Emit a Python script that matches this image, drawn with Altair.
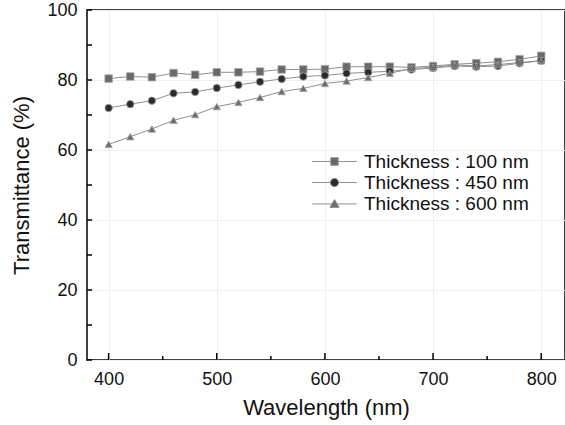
import altair as alt
import pandas as pd

wavelength = [400, 420, 440, 460, 480, 500, 520, 540, 560, 580, 600,
              620, 640, 660, 680, 700, 720, 740, 760, 780, 800]
t100 = [80.4, 81.0, 80.8, 82.0, 81.5, 82.2, 82.2, 82.4, 83.0, 83.0, 83.1,
        83.8, 83.8, 83.8, 83.6, 84.0, 84.5, 84.8, 85.2, 85.9, 86.9]
t450 = [72.0, 73.1, 74.1, 76.2, 76.6, 77.7, 78.6, 79.5, 80.3, 81.0, 81.3,
        81.9, 82.2, 82.5, 83.0, 83.4, 84.0, 83.8, 84.0, 84.8, 85.5]
t600 = [61.6, 63.8, 66.0, 68.5, 70.1, 72.4, 73.6, 75.0, 76.7, 77.6, 79.0,
        79.7, 80.7, 81.9, 83.3, 83.6, 84.3, 84.0, 84.4, 85.0, 85.5]
series = ["Thickness : 100 nm", "Thickness : 450 nm", "Thickness : 600 nm"]

x_major = [400, 500, 600, 700, 800]
x_minor = [450, 550, 650, 750]
y_major = [0, 20, 40, 60, 80, 100]
y_minor = [10, 30, 50, 70, 90]

rows = []
for name, vals in zip(series, [t100, t450, t600]):
    for w, v in zip(wavelength, vals):
        rows.append({"wl": w, "T": v, "series": name})
df = pd.DataFrame(rows)

FONT = "Liberation Sans"
xscale = alt.Scale(domain=[380, 822], nice=False, zero=False)
yscale = alt.Scale(domain=[0, 100], nice=False)
fills = ["#686868", "#2b2b2b", "#6c6c6c"]

xaxis = alt.Axis(title="Wavelength (nm)", values=x_major, grid=True, ticks=False,
                 domain=False, labelPadding=10, titlePadding=9, format="d")
yaxis = alt.Axis(title="Transmittance (%)", values=y_major, grid=True, ticks=False,
                 domain=False, labelPadding=10, titlePadding=13, format="d")

lines = alt.Chart(df).mark_line(color="#8f8f8f", strokeWidth=1).encode(
    x=alt.X("wl:Q", scale=xscale, axis=xaxis),
    y=alt.Y("T:Q", scale=yscale, axis=yaxis),
    detail="series:N",
)

points = alt.Chart(df).mark_point(filled=True, opacity=1, stroke="#a5a5a5",
                                  strokeWidth=0.8).encode(
    x=alt.X("wl:Q", scale=xscale),
    y=alt.Y("T:Q", scale=yscale),
    shape=alt.Shape("series:N", scale=alt.Scale(domain=series,
                    range=["square", "circle", "triangle-up"]), legend=None),
    fill=alt.Fill("series:N", scale=alt.Scale(domain=series, range=fills), legend=None),
    size=alt.Size("series:N", scale=alt.Scale(domain=series, range=[56, 55, 80]), legend=None),
)

sq = "M-5.4,0H-0.9M0.9,0H5.4M-0.9,-0.9H0.9V0.9H-0.9Z"
ci = "M-5.4,0H-1M1,0H5.4M-1,0A1,1,0,1,1,1,0A1,1,0,1,1,-1,0Z"
tr = "M-5.4,0.1H-0.6M0.6,0.1H5.4M0,-0.95L1.12,0.95H-1.12Z"

leg = alt.Legend(title=None, orient="none", legendX=238, legendY=142,
                 labelFont=FONT, labelFontSize=19, labelColor="#111", labelLimit=400,
                 symbolSize=68, labelOffset=20, rowPadding=1, padding=0,
                 symbolStrokeColor="#8f8f8f", symbolStrokeWidth=1, symbolOpacity=1)

legend_layer = alt.Chart(df).transform_filter("datum.wl < 0").mark_point(
    filled=True, opacity=1, strokeWidth=1).encode(
    x=alt.X("wl:Q", scale=xscale),
    y=alt.Y("T:Q", scale=yscale),
    shape=alt.Shape("series:N", scale=alt.Scale(domain=series, range=[sq, ci, tr]), legend=leg),
    fill=alt.Fill("series:N", scale=alt.Scale(domain=series, range=fills), legend=leg),
    stroke=alt.Stroke("series:N", scale=alt.Scale(domain=series,
                      range=["#8f8f8f", "#8f8f8f", "#8f8f8f"]), legend=leg),
)

ytick_df = pd.DataFrame({"T": y_major + y_minor})
xmaj_df = pd.DataFrame({"wl": x_major})
xmin_df = pd.DataFrame({"wl": x_minor})

yticks = alt.Chart(ytick_df).mark_rule(color="black", strokeWidth=1.5).encode(
    y=alt.Y("T:Q", scale=yscale), x=alt.value(0), x2=alt.value(5))
xmaj = alt.Chart(xmaj_df).mark_rule(color="black", strokeWidth=1.5).encode(
    x=alt.X("wl:Q", scale=xscale), y=alt.value(350), y2=alt.value(343))
xmin = alt.Chart(xmin_df).mark_rule(color="black", strokeWidth=1.5).encode(
    x=alt.X("wl:Q", scale=xscale), y=alt.value(350), y2=alt.value(346))

chart = alt.layer(lines, points, legend_layer, yticks, xmaj, xmin).resolve_scale(
    shape="independent", fill="independent", stroke="independent"
).properties(
    width=478, height=350,
    background="white",
    autosize=alt.AutoSizeParams(type="none"),
    padding={"left": 87, "top": 10, "right": 0, "bottom": 65},
).configure_view(stroke="black", strokeWidth=1.5).configure_axis(
    labelFont=FONT, labelFontSize=18, labelColor="#111",
    titleFont=FONT, titleFontSize=22, titleFontWeight="normal", titleColor="#111",
    gridColor="#efefef", gridWidth=1,
)

chart.save("out.html", embed_options={"renderer": "svg", "actions": False})
